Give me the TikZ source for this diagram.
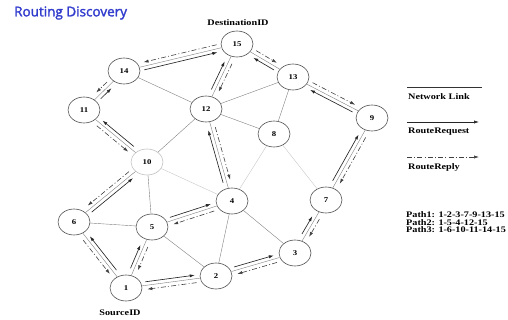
\documentclass[tikz,border=0pt]{standalone}
\usepackage{fontspec}
\usepackage{graphicx}
\setmainfont{Liberation Serif}
\newfontfamily\labfont{Liberation Serif}[FakeStretch=1.2]
\newfontfamily\titlefont{Open Sans}[FakeBold=2]
\usetikzlibrary{calc,arrows.meta,shapes.geometric}
\definecolor{titleblue}{RGB}{50,60,205}
\newcommand\pairarrows[3]{%
  \draw[link] (#1) -- (#2);
  \draw[req] ($($(#1)!20pt!(#2)$)!#3*3.6pt!90:(#2)$) -- ($($(#2)!21pt!(#1)$)!#3*3.6pt!-90:(#1)$);
  \draw[rep] ($($(#2)!20pt!(#1)$)!#3*4pt!90:(#1)$) -- ($($(#1)!21pt!(#2)$)!#3*4pt!-90:(#2)$);
}
\begin{document}
\begin{tikzpicture}[x=1pt,y=-1pt,
  nd/.style={draw=black!70, line width=0.6pt, ellipse, minimum width=32pt, minimum height=26pt, inner sep=0pt,
    font=\labfont\bfseries\fontsize{7.3}{8}\selectfont},
  ndlight/.style={nd, draw=black!25},
  link/.style={draw=black!50, line width=0.4pt},
  linklight/.style={draw=black!22, line width=0.4pt},
  req/.style={-{Latex[length=5pt,width=3.2pt]}, line width=0.65pt, draw=black!85},
  rep/.style={-{Latex[length=5pt,width=3.2pt]}, line width=0.6pt, draw=black!75, dash pattern=on 5pt off 2.2pt on 1pt off 2.2pt},
  lab/.style={font=\labfont\bfseries\fontsize{8.5}{9}\selectfont, inner sep=0pt},
]
\useasboundingbox (0,0) rectangle (508,320);

\node[anchor=west, inner sep=0pt, text=titleblue, font=\titlefont\fontsize{13.5}{15}\selectfont] (title) at (14,13) {Routing Discovery};

% nodes
\node[nd] (n15) at (237,44) {15};
\node[nd] (n14) at (124,71) {14};
\node[nd] (n13) at (293,77) {13};
\node[nd] (n11) at (84,110) {11};
\node[nd] (n12) at (206,109) {12};
\node[nd] (n8) at (274,134) {8};
\node[nd] (n9) at (372,118) {9};
\node[ndlight] (n10) at (147,162) {10};
\node[nd] (n6) at (74,222) {6};
\node[nd] (n5) at (152,227) {5};
\node[nd] (n4) at (232,201) {4};
\node[nd] (n7) at (326,200) {7};
\node[nd] (n3) at (295,253) {3};
\node[nd] (n2) at (216,276) {2};
\node[nd] (n1) at (126,288) {1};

\node[lab] (dest) at (238,23) {DestinationID};
\node[lab] (src) at (120,313) {SourceID};

% plain network links
\draw[link] (n14) -- (n12);
\draw[link] (n12) -- (n13);
\draw[link] (n12) -- (n8);
\draw[link] (n12) -- (n10);
\draw[link] (n13) -- (n8);
\draw[linklight] (n8) -- (n4);
\draw[linklight] (n8) -- (n7);
\draw[link] (n10) -- (n5);
\draw[linklight] (n10) -- (n4);
\draw[link] (n6) -- (n5);
\draw[link] (n5) -- (n2);
\draw[link] (n4) -- (n2);
\draw[link] (n4) -- (n3);

% path 1
\pairarrows{n1}{n2}{1}
\pairarrows{n2}{n3}{1}
\pairarrows{n3}{n7}{1}
\pairarrows{n7}{n9}{1}
\pairarrows{n9}{n13}{1}
\pairarrows{n13}{n15}{1}
% path 2
\pairarrows{n1}{n5}{1}
\pairarrows{n5}{n4}{1}
\pairarrows{n4}{n12}{1}
\pairarrows{n12}{n15}{1}
% path 3
\pairarrows{n1}{n6}{-1}
\pairarrows{n6}{n10}{-1}
\pairarrows{n10}{n11}{-1}
\pairarrows{n11}{n14}{-1}
\pairarrows{n14}{n15}{-1}

% legend
\coordinate (l1a) at (407,87);
\coordinate (l1b) at (482,87);
\draw[black!80, line width=0.6pt] (l1a) -- (l1b);
\node[lab, anchor=west] (lt1) at (408,97) {Network Link};
\coordinate (l2a) at (407,122);
\coordinate (l2b) at (479,122);
\draw[req] (l2a) -- (l2b);
\node[lab, anchor=west] (lt2) at (408,132) {RouteRequest};
\coordinate (l3a) at (407,157);
\coordinate (l3b) at (479,157);
\draw[rep] (l3a) -- (l3b);
\node[lab, anchor=west] (lt3) at (408,167) {RouteReply};

\node[lab, anchor=west] (p1) at (406,215) {Path1: 1-2-3-7-9-13-15};
\node[lab, anchor=west] (p2) at (406,222.5) {Path2: 1-5-4-12-15};
\node[lab, anchor=west] (p3) at (406,230) {Path3: 1-6-10-11-14-15};
\end{tikzpicture}
\end{document}
